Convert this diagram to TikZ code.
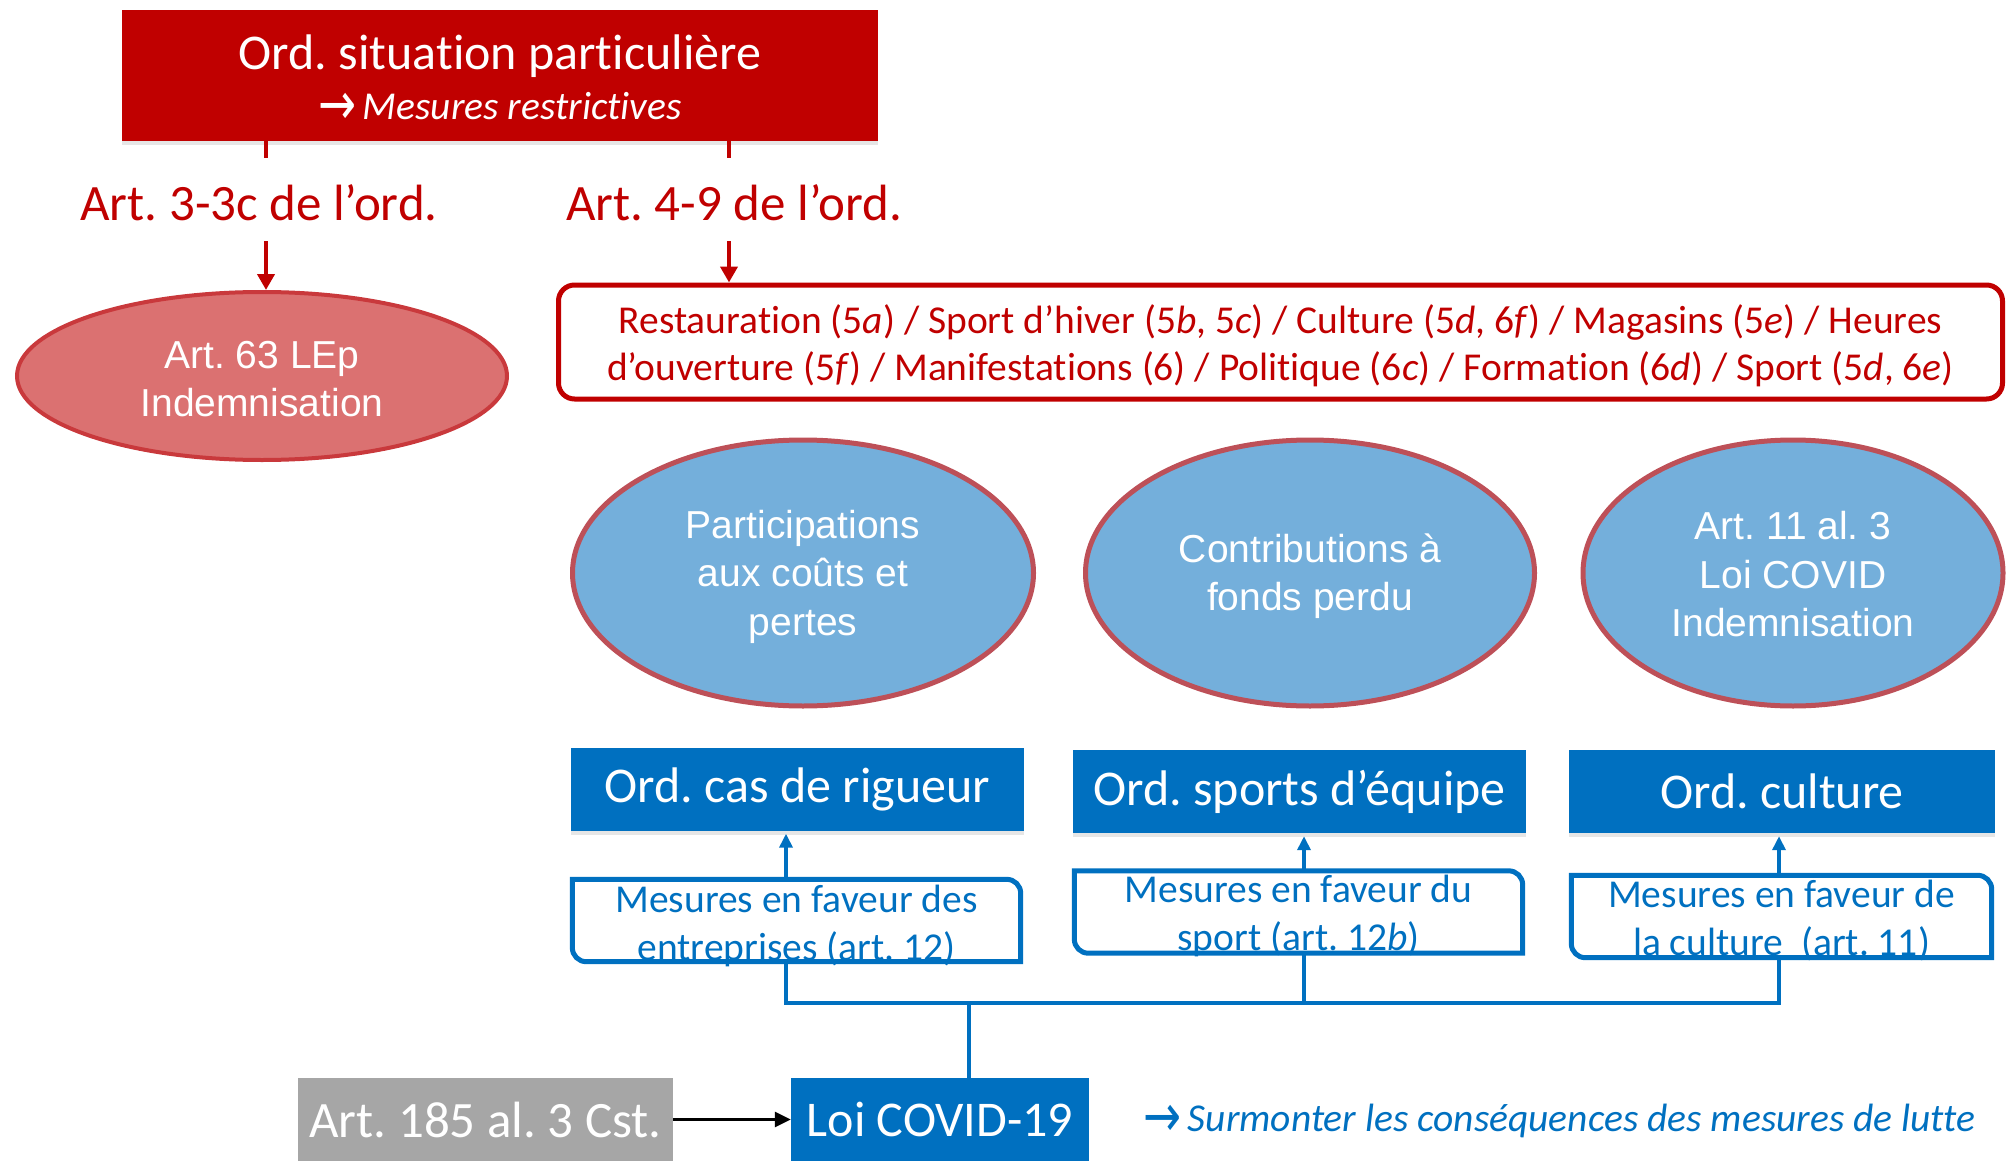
\documentclass[tikz,border=0pt]{standalone}
\usepackage{fontspec}
\setmainfont{Carlito}[Ligatures=NoCommon]
\newfontfamily\hel{Liberation Sans}
\newfontfamily\arr{DejaVu Sans}
\usetikzlibrary{shapes.geometric,arrows.meta,shadows}
\definecolor{dred}{HTML}{C00000}
\definecolor{redfill}{HTML}{DB7171}
\definecolor{redline}{HTML}{C9393C}
\definecolor{bfill}{HTML}{74AFDB}
\definecolor{bline}{HTML}{BD5058}
\definecolor{mblue}{HTML}{0070C0}
\definecolor{mgray}{HTML}{A6A6A6}
\newcommand{\bigarrow}{{\arr\raisebox{-5pt}{\scalebox{1.15}[1.5]{\char"2192}}}}
\newcommand{\lift}[1]{\rule{0pt}{#1}}
\tikzset{
  shad/.style={drop shadow={opacity=0.2,shadow xshift=0pt,shadow yshift=-4pt}},
  redtitle/.style={fill=dred,minimum width=756,minimum height=131,inner sep=0,shad},
  artlab/.style={text=dred,font=\fontsize{51}{60}\selectfont,inner sep=0},
  redell/.style={ellipse,fill=redfill,draw=redline,line width=4,minimum width=490,minimum height=168,inner sep=0,text=white,align=center,font=\hel\fontsize{39}{47.5}\selectfont},
  redlist/.style={draw=dred,line width=5,rounded corners=16,minimum width=1444,minimum height=114,inner sep=0,align=center,text=dred,font=\fontsize{39.5}{47.5}\selectfont},
  blueell/.style={ellipse,fill=bfill,draw=bline,line width=5,minimum height=266,inner sep=0,text=white,align=center,font=\hel\fontsize{39}{48.5}\selectfont},
  bluebox/.style={fill=mblue,text=white,minimum height=83,inner sep=0,font=\fontsize{50}{60}\selectfont,shad},
  mestext/.style={minimum height=82,inner sep=0,align=center,text=mblue,font=\fontsize{39.5}{47.5}\selectfont},
  mesframe/.style={draw=mblue,line width=5},
  graybox/.style={fill=mgray,text=white,minimum height=83,inner sep=0,font=\fontsize{51}{60}\selectfont},
  redln/.style={draw=dred,line width=4},
  redarr/.style={draw=dred,line width=4,-{Triangle[length=16,width=17]}},
  blueln/.style={draw=mblue,line width=3.5},
  bluearr/.style={draw=mblue,line width=3.5,-{Triangle[length=14,width=13]}},
  blackarr/.style={draw=black,line width=3,-{Triangle[length=16,width=15]}}
}
\begin{document}
\frenchspacing
\begin{tikzpicture}[x=1pt,y=-1pt]
\useasboundingbox (0,0) rectangle (2013,1161);
% top title
\node[redtitle] (top) at (500,75.5) {};
\node[text=white,inner sep=0,anchor=base,font=\fontsize{50}{60}\selectfont] (toptitle) at (500,70) {Ord. situation particulière};
\node[text=white,inner sep=0,anchor=base,font=\fontsize{39.5}{44}\selectfont] (topsub) at (500,120) {\bigarrow\,\itshape Mesures restrictives};
% article labels
\node[artlab] (a1) at (259,203) {Art. 3-3c de l’ord.};
\node[artlab] (a2) at (734,203) {Art. 4-9 de l’ord.};
\coordinate (s1) at (266,158);
\coordinate (s2) at (729,158);
\coordinate (t1) at (266,241);
\coordinate (t2) at (729,241);
\draw[redln] (top.south -| s1) -- (s1);
\draw[redln] (top.south -| s2) -- (s2);
% red ellipse
\node[redell] (lep) at (262,376) {\lift{33pt}Art. 63 LEp\\Indemnisation};
% red list box
\node[redlist] (list) at (1280.5,342) {\lift{36pt}Restauration (5\textit{a}) / Sport d’hiver (5\textit{b}, 5\textit{c}) / Culture (5\textit{d}, 6\textit{f}) / Magasins (5\textit{e}) / Heures\\d’ouverture (5\textit{f}) / Manifestations (6) / Politique (6\textit{c}) / Formation (6\textit{d}) / Sport (5\textit{d}, 6\textit{e})};
\draw[redarr] (t1) -- (t1 |- lep.north);
\draw[redarr] (t2) -- (t2 |- list.north);
% blue ellipses
\node[blueell,minimum width=461] (e1) at (803,573) {\lift{36pt}Participations\\aux coûts et\\pertes};
\node[blueell,minimum width=449] (e2) at (1310,573) {\lift{35pt}Contributions à\\fonds perdu};
\node[blueell,minimum width=420] (e3) at (1793,573) {\lift{31pt}Art. 11 al. 3\\Loi COVID\\Indemnisation};
% blue boxes
\node[bluebox,minimum width=453] (b1) at (797.5,789) {Ord. cas de rigueur};
\node[bluebox,minimum width=453] (b2) at (1299.5,791.5) {Ord. sports d’équipe};
\node[bluebox,minimum width=426] (b3) at (1782,791.5) {Ord. culture};
% mesures boxes
\node[mestext,minimum width=448] (m1) at (796.5,926) {Mesures en faveur des\\entreprises (art. 12)};
\node[mestext,minimum width=448] (m2) at (1298.5,916) {Mesures en faveur du\\sport (art. 12\textit{b})};
\node[mestext,minimum width=420] (m3) at (1781.5,920.5) {Mesures en faveur de\\la culture\ \ (art. 11)};
\draw[mesframe] ([yshift=5.5]m1.south west) -- ([yshift=5.5]m1.north west) [rounded corners=14] -- ([yshift=5.5]m1.north east) [sharp corners] -- ([yshift=5.5]m1.south east) [rounded corners=14] -- cycle;
\draw[mesframe] ([yshift=4]m2.south west) -- ([yshift=4]m2.north west) [rounded corners=14] -- ([yshift=4]m2.north east) [sharp corners] -- ([yshift=4]m2.south east) [rounded corners=14] -- cycle;
\draw[mesframe] ([yshift=4]m3.south west) -- ([yshift=4]m3.north west) [rounded corners=14] -- ([yshift=4]m3.north east) [sharp corners] -- ([yshift=4]m3.south east) [rounded corners=14] -- cycle;
% bus
\coordinate (c0) at (969,1003);
\coordinate (c1) at (786,1003);
\coordinate (c2) at (1304,1003);
\coordinate (c3) at (1779,1003);
\draw[bluearr] ([yshift=5.5]m1.north -| c1) -- ([yshift=-3]b1.south -| c1);
\draw[bluearr] ([yshift=4]m2.north -| c2) -- ([yshift=-3]b2.south -| c2);
\draw[bluearr] ([yshift=4]m3.north -| c3) -- ([yshift=-3]b3.south -| c3);
\draw[blueln] ([yshift=5.5]m1.south -| c1) -- (c1) -- (c3) -- ([yshift=4]m3.south -| c3);
\draw[blueln] ([yshift=4]m2.south -| c2) -- (c2);
% bottom
\node[graybox,minimum width=375] (cst) at (485.5,1119.5) {Art. 185 al. 3 Cst.};
\node[bluebox,minimum width=298] (loi) at (940,1119.5) {Loi COVID-19};
\draw[blueln] (c0) -- (c0 |- loi.north);
\draw[blackarr] (cst.east) -- (loi.west);
\node[text=mblue,inner sep=0,font=\fontsize{39.5}{44}\selectfont,anchor=west] (surm) at (1143,1121) {\bigarrow\,\itshape Surmonter les conséquences des mesures de lutte};
\end{tikzpicture}
\end{document}
